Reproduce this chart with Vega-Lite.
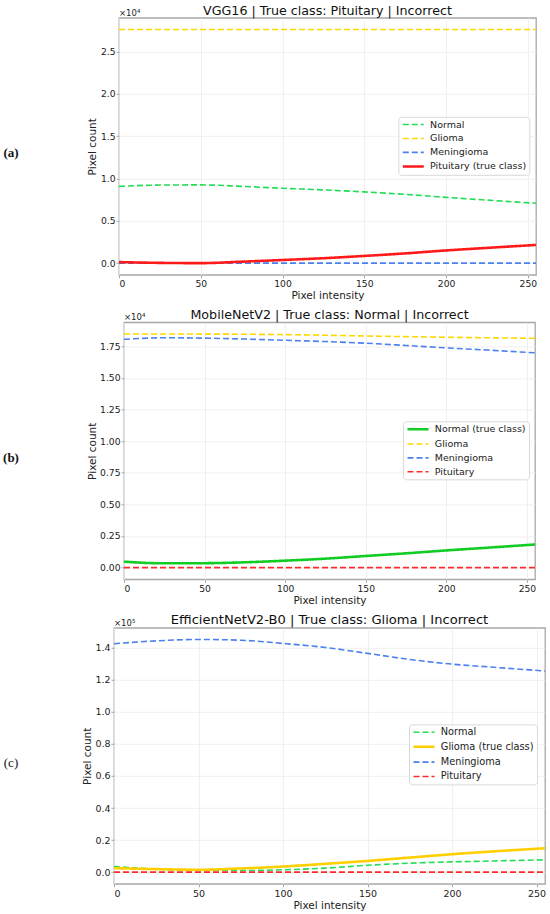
{
  "$schema": "https://vega.github.io/schema/vega-lite/v6.json",
  "padding": {"top": 3.8, "left": 0, "right": 0, "bottom": 0},
  "background": "white",
  "datasets": {
    "a": [
      {"x":0,"v":9080,"s":"Normal"},{"x":25,"v":9230,"s":"Normal"},{"x":50,"v":9250,"s":"Normal"},{"x":75,"v":9080,"s":"Normal"},{"x":100,"v":8850,"s":"Normal"},{"x":125,"v":8660,"s":"Normal"},{"x":150,"v":8420,"s":"Normal"},{"x":175,"v":8130,"s":"Normal"},{"x":200,"v":7780,"s":"Normal"},{"x":225,"v":7450,"s":"Normal"},{"x":255,"v":7080,"s":"Normal"},
      {"x":0,"v":27630,"s":"Glioma"},{"x":50,"v":27630,"s":"Glioma"},{"x":100,"v":27630,"s":"Glioma"},{"x":150,"v":27630,"s":"Glioma"},{"x":200,"v":27630,"s":"Glioma"},{"x":255,"v":27630,"s":"Glioma"},
      {"x":0,"v":0,"s":"Meningioma"},{"x":50,"v":0,"s":"Meningioma"},{"x":100,"v":0,"s":"Meningioma"},{"x":150,"v":0,"s":"Meningioma"},{"x":200,"v":0,"s":"Meningioma"},{"x":255,"v":0,"s":"Meningioma"},
      {"x":0,"v":120,"s":"Pituitary (true class)"},{"x":25,"v":30,"s":"Pituitary (true class)"},{"x":50,"v":0,"s":"Pituitary (true class)"},{"x":75,"v":170,"s":"Pituitary (true class)"},{"x":100,"v":370,"s":"Pituitary (true class)"},{"x":125,"v":580,"s":"Pituitary (true class)"},{"x":150,"v":850,"s":"Pituitary (true class)"},{"x":175,"v":1150,"s":"Pituitary (true class)"},{"x":200,"v":1500,"s":"Pituitary (true class)"},{"x":225,"v":1800,"s":"Pituitary (true class)"},{"x":255,"v":2150,"s":"Pituitary (true class)"}
    ],
    "b": [
      {"x":0,"v":470,"s":"Normal (true class)"},{"x":25,"v":340,"s":"Normal (true class)"},{"x":50,"v":350,"s":"Normal (true class)"},{"x":75,"v":420,"s":"Normal (true class)"},{"x":100,"v":550,"s":"Normal (true class)"},{"x":125,"v":710,"s":"Normal (true class)"},{"x":150,"v":920,"s":"Normal (true class)"},{"x":175,"v":1130,"s":"Normal (true class)"},{"x":200,"v":1360,"s":"Normal (true class)"},{"x":225,"v":1570,"s":"Normal (true class)"},{"x":255,"v":1830,"s":"Normal (true class)"},
      {"x":0,"v":18470,"s":"Glioma"},{"x":25,"v":18470,"s":"Glioma"},{"x":50,"v":18460,"s":"Glioma"},{"x":75,"v":18450,"s":"Glioma"},{"x":100,"v":18420,"s":"Glioma"},{"x":125,"v":18370,"s":"Glioma"},{"x":150,"v":18310,"s":"Glioma"},{"x":175,"v":18260,"s":"Glioma"},{"x":200,"v":18210,"s":"Glioma"},{"x":225,"v":18170,"s":"Glioma"},{"x":255,"v":18130,"s":"Glioma"},
      {"x":0,"v":18050,"s":"Meningioma"},{"x":25,"v":18170,"s":"Meningioma"},{"x":50,"v":18140,"s":"Meningioma"},{"x":75,"v":18070,"s":"Meningioma"},{"x":100,"v":17970,"s":"Meningioma"},{"x":125,"v":17870,"s":"Meningioma"},{"x":150,"v":17740,"s":"Meningioma"},{"x":175,"v":17560,"s":"Meningioma"},{"x":200,"v":17370,"s":"Meningioma"},{"x":225,"v":17200,"s":"Meningioma"},{"x":255,"v":16980,"s":"Meningioma"},
      {"x":0,"v":0,"s":"Pituitary"},{"x":50,"v":0,"s":"Pituitary"},{"x":100,"v":0,"s":"Pituitary"},{"x":150,"v":0,"s":"Pituitary"},{"x":200,"v":0,"s":"Pituitary"},{"x":255,"v":0,"s":"Pituitary"}
    ],
    "c": [
      {"x":0,"v":3500,"s":"Normal"},{"x":25,"v":1900,"s":"Normal"},{"x":50,"v":1000,"s":"Normal"},{"x":75,"v":1000,"s":"Normal"},{"x":100,"v":1500,"s":"Normal"},{"x":125,"v":2500,"s":"Normal"},{"x":150,"v":4300,"s":"Normal"},{"x":175,"v":5600,"s":"Normal"},{"x":200,"v":6400,"s":"Normal"},{"x":225,"v":7000,"s":"Normal"},{"x":255,"v":7700,"s":"Normal"},
      {"x":0,"v":2500,"s":"Glioma (true class)"},{"x":25,"v":1900,"s":"Glioma (true class)"},{"x":50,"v":1500,"s":"Glioma (true class)"},{"x":75,"v":2300,"s":"Glioma (true class)"},{"x":100,"v":3500,"s":"Glioma (true class)"},{"x":125,"v":5200,"s":"Glioma (true class)"},{"x":150,"v":7000,"s":"Glioma (true class)"},{"x":175,"v":9100,"s":"Glioma (true class)"},{"x":200,"v":11200,"s":"Glioma (true class)"},{"x":225,"v":13000,"s":"Glioma (true class)"},{"x":255,"v":14900,"s":"Glioma (true class)"},
      {"x":0,"v":142500,"s":"Meningioma"},{"x":25,"v":144300,"s":"Meningioma"},{"x":50,"v":145200,"s":"Meningioma"},{"x":75,"v":144700,"s":"Meningioma"},{"x":100,"v":142700,"s":"Meningioma"},{"x":125,"v":140200,"s":"Meningioma"},{"x":150,"v":136500,"s":"Meningioma"},{"x":175,"v":132700,"s":"Meningioma"},{"x":200,"v":129800,"s":"Meningioma"},{"x":225,"v":127800,"s":"Meningioma"},{"x":255,"v":125500,"s":"Meningioma"},
      {"x":0,"v":0,"s":"Pituitary"},{"x":50,"v":0,"s":"Pituitary"},{"x":100,"v":0,"s":"Pituitary"},{"x":150,"v":0,"s":"Pituitary"},{"x":200,"v":0,"s":"Pituitary"},{"x":255,"v":0,"s":"Pituitary"}
    ]
  },
  "spacing": 5.5,
  "resolve": {"scale": {"x": "independent", "y": "independent", "color": "independent", "strokeDash": "independent", "strokeWidth": "independent"}, "legend": {"color": "independent", "strokeDash": "independent", "strokeWidth": "independent"}},
  "vconcat": [
    {
      "spacing": 64,
      "resolve": {"scale": {"color": "independent", "strokeDash": "independent", "strokeWidth": "independent"}},
      "hconcat": [
        {
          "width": 22, "height": 257, "view": {"stroke": null},
          "data": {"values": [{"lab": "(a)"}]},
          "mark": {"type": "text", "font": "Liberation Serif", "fontSize": 13, "fontWeight": "bold", "dy": 7, "color": "#111"},
          "encoding": {"text": {"field": "lab"}}
        },
        {
          "width": 417, "height": 257,
          "title": {"text": "VGG16 | True class: Pituitary | Incorrect", "offset": -18.5, "baseline": "alphabetic"},
          "layer": [
            {
              "data": {"name": "a"},
              "mark": {"type": "line", "interpolate": "monotone", "clip": true},
              "encoding": {
                "x": {"field": "x", "type": "quantitative", "scale": {"domain": [0, 255], "nice": false, "zero": false}, "axis": {"values": [0, 50, 100, 150, 200, 250], "title": "Pixel intensity", "labelOverlap": false}},
                "y": {"field": "v", "type": "quantitative", "scale": {"domain": [-1381, 29011], "nice": false, "zero": false}, "axis": {"values": [0, 5000, 10000, 15000, 20000, 25000], "labelExpr": "format(datum.value/10000, '.1f')", "title": "Pixel count", "titlePadding": 3, "labelOverlap": false}},
                "color": {"field": "s", "type": "nominal", "scale": {"domain": ["Normal", "Glioma", "Meningioma", "Pituitary (true class)"], "range": ["#22dd55", "#ffd700", "#4a80f0", "#ff1a1a"]}, "legend": {"orient": "none", "legendX": 279.3, "legendY": 99, "title": null}},
                "strokeDash": {"field": "s", "type": "nominal", "scale": {"domain": ["Normal", "Glioma", "Meningioma", "Pituitary (true class)"], "range": [[6, 3], [6, 3], [6, 3], [1, 0]]}, "legend": {"orient": "none", "legendX": 279.3, "legendY": 99, "title": null}},
                "strokeWidth": {"field": "s", "type": "nominal", "scale": {"type": "ordinal", "domain": ["Normal", "Glioma", "Meningioma", "Pituitary (true class)"], "range": [1.6, 1.6, 1.6, 2.6]}, "legend": {"orient": "none", "legendX": 279.3, "legendY": 99, "title": null}}
              }
            },
            {
              "data": {"values": [{"t": "×10⁴"}]},
              "mark": {"type": "text", "align": "left", "baseline": "alphabetic", "dy": -2, "fontSize": 8.5, "font": "DejaVu Sans", "color": "#222"},
              "encoding": {
                "x": {"datum": 0, "type": "quantitative", "axis": {"values": [0, 50, 100, 150, 200, 250], "title": "Pixel intensity", "labelOverlap": false}},
                "y": {"datum": 29011, "type": "quantitative", "axis": {"values": [0, 5000, 10000, 15000, 20000, 25000], "labelExpr": "format(datum.value/10000, '.1f')", "title": "Pixel count", "titlePadding": 3, "labelOverlap": false}},
                "text": {"field": "t"}
              }
            }
          ]
        }
      ]
    },
    {
      "spacing": 64,
      "resolve": {"scale": {"color": "independent", "strokeDash": "independent", "strokeWidth": "independent"}},
      "hconcat": [
        {
          "width": 22, "height": 257, "view": {"stroke": null},
          "data": {"values": [{"lab": "(b)"}]},
          "mark": {"type": "text", "font": "Liberation Serif", "fontSize": 13, "fontWeight": "bold", "dy": 7, "color": "#111"},
          "encoding": {"text": {"field": "lab"}}
        },
        {
          "width": 411, "height": 257,
          "title": {"text": "MobileNetV2 | True class: Normal | Incorrect", "offset": -18.5, "baseline": "alphabetic"},
          "layer": [
            {
              "data": {"name": "b"},
              "mark": {"type": "line", "interpolate": "monotone", "clip": true},
              "encoding": {
                "x": {"field": "x", "type": "quantitative", "scale": {"domain": [0, 255], "nice": false, "zero": false}, "axis": {"values": [0, 50, 100, 150, 200, 250], "title": "Pixel intensity", "labelOverlap": false}},
                "y": {"field": "v", "type": "quantitative", "scale": {"domain": [-923, 19393], "nice": false, "zero": false}, "axis": {"values": [0, 2500, 5000, 7500, 10000, 12500, 15000, 17500], "labelExpr": "format(datum.value/10000, '.2f')", "title": "Pixel count", "titlePadding": 2.5, "labelOverlap": false}},
                "color": {"field": "s", "type": "nominal", "scale": {"domain": ["Normal (true class)", "Glioma", "Meningioma", "Pituitary"], "range": ["#11cc22", "#ffd700", "#4a80f0", "#ff2a2a"]}, "legend": {"orient": "none", "legendX": 279, "legendY": 99, "title": null}},
                "strokeDash": {"field": "s", "type": "nominal", "scale": {"domain": ["Normal (true class)", "Glioma", "Meningioma", "Pituitary"], "range": [[1, 0], [6, 3], [6, 3], [6, 3]]}, "legend": {"orient": "none", "legendX": 279, "legendY": 99, "title": null}},
                "strokeWidth": {"field": "s", "type": "nominal", "scale": {"type": "ordinal", "domain": ["Normal (true class)", "Glioma", "Meningioma", "Pituitary"], "range": [2.6, 1.6, 1.6, 1.6]}, "legend": {"orient": "none", "legendX": 279, "legendY": 99, "title": null}}
              }
            },
            {
              "data": {"values": [{"t": "×10⁴"}]},
              "mark": {"type": "text", "align": "left", "baseline": "alphabetic", "dy": -2, "fontSize": 8.5, "font": "DejaVu Sans", "color": "#222"},
              "encoding": {
                "x": {"datum": 0, "type": "quantitative", "axis": {"values": [0, 50, 100, 150, 200, 250], "title": "Pixel intensity", "labelOverlap": false}},
                "y": {"datum": 19393, "type": "quantitative", "axis": {"values": [0, 2500, 5000, 7500, 10000, 12500, 15000, 17500], "labelExpr": "format(datum.value/10000, '.2f')", "title": "Pixel count", "titlePadding": 2.5, "labelOverlap": false}},
                "text": {"field": "t"}
              }
            }
          ]
        }
      ]
    },
    {
      "spacing": 59,
      "resolve": {"scale": {"color": "independent", "strokeDash": "independent", "strokeWidth": "independent"}},
      "hconcat": [
        {
          "width": 22, "height": 256, "view": {"stroke": null},
          "data": {"values": [{"lab": "(c)"}]},
          "mark": {"type": "text", "font": "Liberation Serif", "fontSize": 13, "fontWeight": "normal", "dy": 7, "color": "#111"},
          "encoding": {"text": {"field": "lab"}}
        },
        {
          "width": 431, "height": 256,
          "title": {"text": "EfficientNetV2-B0 | True class: Glioma | Incorrect", "offset": -18.5, "baseline": "alphabetic", "fontSize": 13.1},
          "layer": [
            {
              "data": {"name": "c"},
              "mark": {"type": "line", "interpolate": "monotone", "clip": true},
              "encoding": {
                "x": {"field": "x", "type": "quantitative", "scale": {"domain": [0, 255], "nice": false, "zero": false}, "axis": {"values": [0, 50, 100, 150, 200, 250], "title": "Pixel intensity", "labelOverlap": false, "labelFontSize": 9.5}},
                "y": {"field": "v", "type": "quantitative", "scale": {"domain": [-7260, 152460], "nice": false, "zero": false}, "axis": {"values": [0, 20000, 40000, 60000, 80000, 100000, 120000, 140000], "labelExpr": "format(datum.value/100000, '.1f')", "title": "Pixel count", "titlePadding": 2.5, "labelOverlap": false, "labelFontSize": 9.5}},
                "color": {"field": "s", "type": "nominal", "scale": {"domain": ["Normal", "Glioma (true class)", "Meningioma", "Pituitary"], "range": ["#22dd55", "#ffcf00", "#4a80f0", "#ff2a2a"]}, "legend": {"orient": "none", "legendX": 295, "legendY": 96.6, "title": null, "labelFontSize": 9.8, "rowPadding": 3.4}},
                "strokeDash": {"field": "s", "type": "nominal", "scale": {"domain": ["Normal", "Glioma (true class)", "Meningioma", "Pituitary"], "range": [[6, 3], [1, 0], [6, 3], [6, 3]]}, "legend": {"orient": "none", "legendX": 295, "legendY": 96.6, "title": null, "labelFontSize": 9.8, "rowPadding": 3.4}},
                "strokeWidth": {"field": "s", "type": "nominal", "scale": {"type": "ordinal", "domain": ["Normal", "Glioma (true class)", "Meningioma", "Pituitary"], "range": [1.6, 2.6, 1.6, 1.6]}, "legend": {"orient": "none", "legendX": 295, "legendY": 96.6, "title": null, "labelFontSize": 9.8, "rowPadding": 3.4}}
              }
            },
            {
              "data": {"values": [{"t": "×10⁵"}]},
              "mark": {"type": "text", "align": "left", "baseline": "alphabetic", "dy": -2, "fontSize": 8.5, "font": "DejaVu Sans", "color": "#222"},
              "encoding": {
                "x": {"datum": 0, "type": "quantitative", "axis": {"values": [0, 50, 100, 150, 200, 250], "title": "Pixel intensity", "labelOverlap": false, "labelFontSize": 9.5}},
                "y": {"datum": 152460, "type": "quantitative", "axis": {"values": [0, 20000, 40000, 60000, 80000, 100000, 120000, 140000], "labelExpr": "format(datum.value/100000, '.1f')", "title": "Pixel count", "titlePadding": 2.5, "labelOverlap": false, "labelFontSize": 9.5}},
                "text": {"field": "t"}
              }
            }
          ]
        }
      ]
    }
  ],
  "config": {
    "view": {"stroke": "#a8a8a8", "strokeWidth": 1.3},
    "axis": {"domain": false, "tickColor": "#a8a8a8", "tickSize": 3, "grid": true, "gridColor": "#ececec", "gridWidth": 0.8, "labelFont": "DejaVu Sans", "labelFontSize": 9.2, "labelColor": "#222", "labelPadding": 1, "labelOverlap": false, "titleFont": "DejaVu Sans", "titleFontSize": 10.5, "titleFontWeight": "normal", "titleColor": "#222"},
    "axisX": {"labelPadding": 2, "titlePadding": 2},
    "title": {"font": "DejaVu Sans", "fontSize": 12.7, "fontWeight": "normal", "color": "#111", "frame": "group", "anchor": "middle"},
    "legend": {"labelFont": "DejaVu Sans", "labelFontSize": 9.5, "labelColor": "#222", "symbolType": "M-1,0H5", "symbolSize": 49, "labelOffset": 18.8, "padding": 3, "rowPadding": 2.9, "fillColor": "rgba(255,255,255,0.85)", "strokeColor": "#d8d8d8", "cornerRadius": 3}
  }
}
